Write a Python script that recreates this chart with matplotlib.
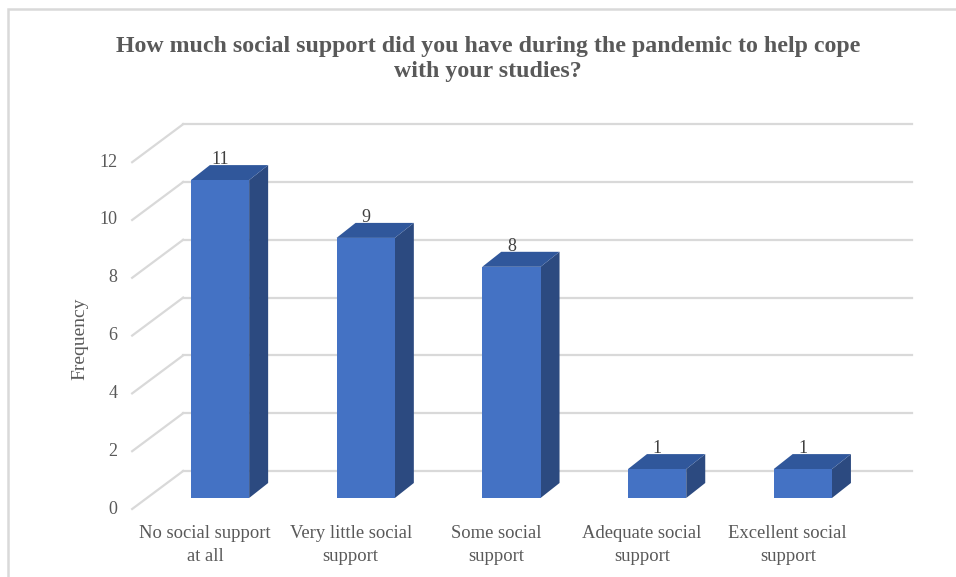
import numpy as np
import matplotlib
matplotlib.use('Agg')
from matplotlib import pyplot as plt
from matplotlib.patches import Polygon, Rectangle

categories = ['No social support\nat all', 'Very little social\nsupport', 'Some social\nsupport',
              'Adequate social\nsupport', 'Excellent social\nsupport']
values = [11, 9, 8, 1, 1]
yticks = [0, 2, 4, 6, 8, 10, 12]
title = 'How much social support did you have during the pandemic to help cope\nwith your studies?'

plt.rcParams['font.family'] = ['Liberation Serif', 'DejaVu Serif']

W, H = 956, 577
fig = plt.figure(figsize=(W / 100, H / 100), dpi=100)
ax = fig.add_axes([0, 0, 1, 1])

# pixel scale of one category / one value unit
px_cat = 145.7
px_val = 28.9
x0_px, y0_px = 220, 498  # category 0 centre, value 0 at bar front plane
ax.set_xlim(-x0_px / px_cat, (W - x0_px) / px_cat)
ax.set_ylim(-(H - y0_px) / px_val, y0_px / px_val)
ax.axis('off')

# oblique depth offsets (data units)
back = (36 / px_cat, 27 / px_val)
front = (-15 / px_cat, -11 / px_val)
bdep = (19 / px_cat, 15 / px_val)

grid_c = '#D9D9D9'
text_c = '#595959'
n = len(categories)
left = -0.5
right = n - 0.5

for v in yticks:
    ax.plot([left + back[0], right + back[0]], [v + back[1], v + back[1]], color=grid_c, lw=1.6, zorder=1)
    ax.plot([left + front[0], left + back[0]], [v + front[1], v + back[1]], color=grid_c, lw=1.6, zorder=1)
    ax.text(left + front[0] - 0.1, v + front[1], str(v), ha='right', va='center', fontsize=13, color=text_c)

bw = 0.4
for i, v in enumerate(values):
    xl, xr = i - bw / 2, i + bw / 2
    dx, dy = bdep
    ax.add_patch(Polygon([(xr, 0), (xr + dx, dy), (xr + dx, v + dy), (xr, v)], closed=True,
                         facecolor='#2C4A80', edgecolor='none', zorder=3))
    ax.add_patch(Polygon([(xl, v), (xr, v), (xr + dx, v + dy), (xl + dx, v + dy)], closed=True,
                         facecolor='#30579B', edgecolor='none', zorder=3))
    ax.add_patch(Rectangle((xl, 0), bw, v, facecolor='#4472C4', edgecolor='none', zorder=4))
    ax.text(i, v + dy - 0.1, str(v), ha='center', va='bottom', fontsize=13, color='#404040', zorder=5)
    ax.text(i + front[0], front[1] - 0.56, categories[i], ha='center', va='top', fontsize=13.4,
            color=text_c, linespacing=1.42)

ax.text(left + front[0] - 0.36, 6 + (front[1] + back[1]) / 2 - 0.75, 'Frequency', rotation=90,
        ha='center', va='center', fontsize=14, color=text_c)

fig.text(488 / W, 1 - 59 / H, title, ha='center', va='center', fontsize=17.2, fontweight='bold',
         color=text_c, linespacing=1.3)

# chart border (only top and left visible)
fig.add_artist(Rectangle((8 / W, -0.1), 1.2, 1 - 8.5 / H + 0.1, transform=fig.transFigure,
                         facecolor='none', edgecolor=grid_c, lw=1.8))

fig.savefig('out.png', dpi=100)
